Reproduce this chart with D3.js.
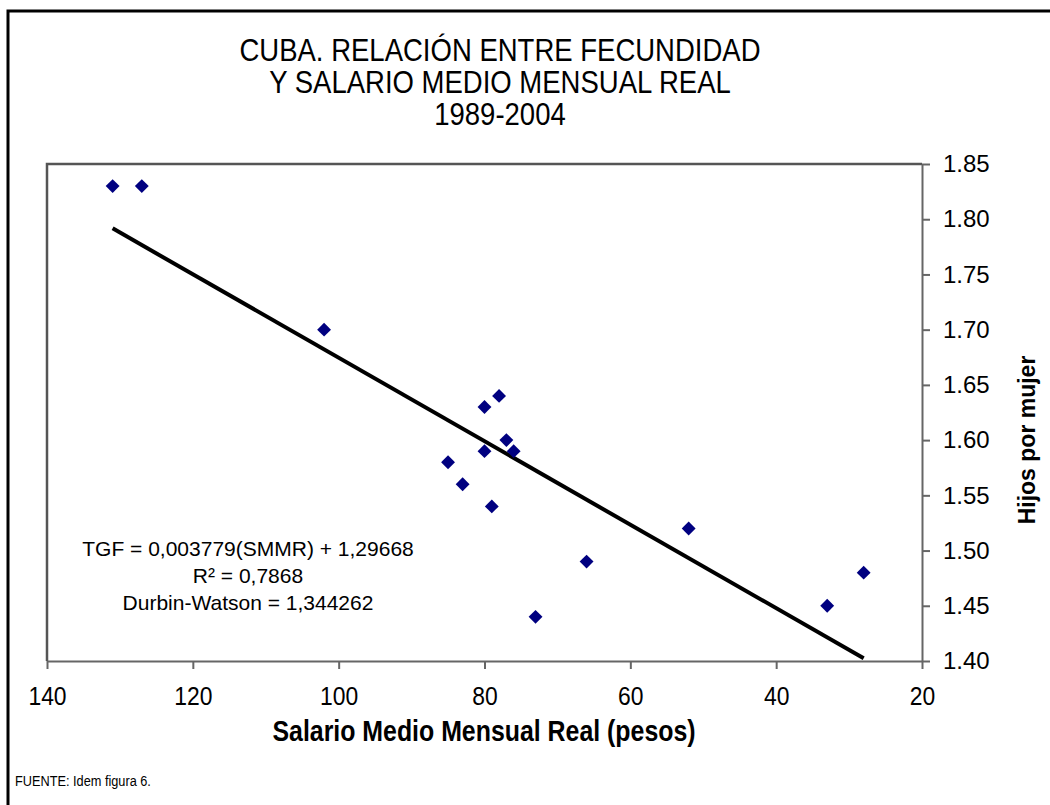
<!DOCTYPE html>
<html>
<head>
<meta charset="utf-8">
<script src="https://cdn.jsdelivr.net/npm/d3@7"></script>
<style>
  body { margin: 0; background: #fff; }
  svg text { font-family: "Liberation Sans", Arial, sans-serif; fill: #000; }
</style>
</head>
<body>
<div class="container"></div>
<script>
// salario medio mensual real (pesos) vs TGF, 1989-2004
const salario = [131, 127, 102, 80, 78, 77, 76, 80, 85, 83, 79, 73, 66, 52, 33, 28]
const hijos = [1.83, 1.83, 1.70, 1.63, 1.64, 1.60, 1.59, 1.59, 1.58, 1.56, 1.54, 1.44, 1.49, 1.52, 1.45, 1.48]

// fitted line given on the chart
const fitSlope = 0.003779
const fitIntercept = 1.29668

const xTicks = [140, 120, 100, 80, 60, 40, 20]
const yTicks = [1.40, 1.45, 1.50, 1.55, 1.60, 1.65, 1.70, 1.75, 1.80, 1.85]

const titleLines = ['CUBA. RELACIÓN ENTRE FECUNDIDAD', 'Y SALARIO MEDIO MENSUAL REAL', '1989-2004']
const equationLines = ['TGF = 0,003779(SMMR) + 1,29668', 'R\u00B2 = 0,7868', 'Durbin-Watson = 1,344262']

var width = 1050
var height = 805
var plot = { left: 47, right: 922, top: 164, bottom: 661 }
// the original uses a condensed face; squeeze regular glyphs instead
var narrow = 0.86

var svg = d3.select('.container')
            .append('svg')
            .attr('width', width)
            .attr('height', height)

// outer frame (left and top only)
svg.append('path')
   .attr('d', 'M8,805V11H1050')
   .attr('fill', 'none')
   .attr('stroke', '#000')
   .attr('stroke-width', 3)

var xScale = d3.scaleLinear().domain([140, 20]).range([plot.left, plot.right])
var yScale = d3.scaleLinear().domain([1.40, 1.85]).range([plot.bottom, plot.top])

// title
svg.append('text')
   .attr('text-anchor', 'middle')
   .attr('transform', 'translate(500,0) scale(' + narrow + ',1)')
   .style('font-size', '32px')
   .selectAll('tspan')
   .data(titleLines)
   .enter()
   .append('tspan')
   .attr('x', 0)
   .attr('y', function (d, i) { return 61 + i * 32 })
   .text(function (d) { return d })

// plot frame: left and top edges
svg.append('path')
   .attr('d', 'M' + plot.left + ',' + plot.bottom + 'V' + plot.top + 'H' + plot.right)
   .attr('fill', 'none')
   .attr('stroke', '#555')
   .attr('stroke-width', 2.5)

var xAxis = svg.append('g')
               .attr('transform', 'translate(0,' + plot.bottom + ')')
               .call(d3.axisBottom(xScale)
                       .tickValues(xTicks)
                       .tickSizeInner(8)
                       .tickSizeOuter(0)
                       .tickPadding(18)
                       .tickFormat(d3.format('d')))
xAxis.select('.domain').attr('stroke', '#666').attr('stroke-width', 2)
xAxis.selectAll('.tick line').attr('stroke', '#666').attr('stroke-width', 2)
xAxis.selectAll('.tick text')
     .attr('fill', '#000')
     .attr('transform', 'scale(0.88,1)')
     .style('font-size', '26px')

var yAxis = svg.append('g')
               .attr('transform', 'translate(' + plot.right + ',0)')
               .call(d3.axisRight(yScale)
                       .tickValues(yTicks)
                       .tickSizeInner(8)
                       .tickSizeOuter(0)
                       .tickPadding(13)
                       .tickFormat(d3.format('.2f')))
yAxis.select('.domain').attr('stroke', '#666').attr('stroke-width', 2)
yAxis.selectAll('.tick line').attr('stroke', '#666').attr('stroke-width', 2)
yAxis.selectAll('.tick text')
     .attr('fill', '#000')
     .style('font-size', '24px')

// regression line over the data range
var xExtent = d3.extent(salario)
var fitLine = d3.line()
                .x(function (d) { return xScale(d) })
                .y(function (d) { return yScale(fitSlope * d + fitIntercept) })

svg.append('path')
   .datum(xExtent)
   .attr('d', fitLine)
   .attr('fill', 'none')
   .attr('stroke', '#000')
   .attr('stroke-width', 4)

// points
var diamond = d3.symbol().type(d3.symbolSquare).size(96)
svg.append('g')
   .selectAll('path')
   .data(salario)
   .enter()
   .append('path')
   .attr('d', diamond)
   .attr('fill', '#000080')
   .attr('transform', function (d, i) {
     return 'translate(' + xScale(d) + ',' + yScale(hijos[i]) + ') rotate(45)'
   })

// equation box
svg.append('text')
   .attr('text-anchor', 'middle')
   .style('font-size', '21px')
   .selectAll('tspan')
   .data(equationLines)
   .enter()
   .append('tspan')
   .attr('x', 248)
   .attr('y', function (d, i) { return 556 + i * 27 })
   .text(function (d) { return d })

// axis titles
svg.append('text')
   .attr('text-anchor', 'middle')
   .attr('transform', 'translate(484,741) scale(0.83,1)')
   .style('font-size', '30px')
   .style('font-weight', 'bold')
   .text('Salario Medio Mensual Real (pesos)')

svg.append('text')
   .attr('text-anchor', 'middle')
   .attr('transform', 'translate(1035,440) rotate(-90)')
   .style('font-size', '23px')
   .style('font-weight', 'bold')
   .text('Hijos por mujer')

svg.append('text')
   .attr('transform', 'translate(15,786) scale(0.85,1)')
   .style('font-size', '15px')
   .text('FUENTE: Idem figura 6.')
</script>
</body>
</html>
